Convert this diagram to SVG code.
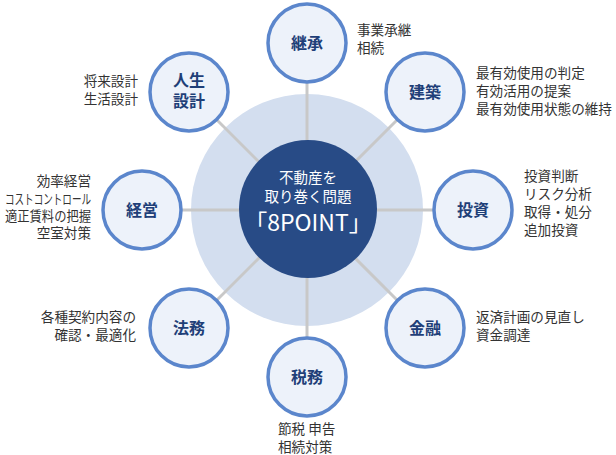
<svg xmlns="http://www.w3.org/2000/svg" width="616" height="455" viewBox="0 0 616 455">
<style>
.node{fill:#edf2fa;stroke:#5b86cc;stroke-width:3.5}
.lbl{font-family:"Noto Sans CJK JP","Noto Sans",sans-serif;font-size:16px;font-weight:bold;fill:#1f3f78;text-anchor:middle}
.desc{font-family:"Noto Sans CJK JP","Noto Sans",sans-serif;font-size:13.6px;fill:#333}
.r{text-anchor:end}
.ctr{font-family:"Noto Sans CJK JP","Noto Sans",sans-serif;fill:#fff;text-anchor:middle}
.conn line{stroke:#c8c8c8;stroke-width:3}
</style>
<circle id="ring" cx="307" cy="210" r="116" fill="#d3deef"/>
<g class="conn" id="connectors">
<line x1="307" y1="210" x2="307" y2="43"/>
<line x1="307" y1="210" x2="425" y2="92"/>
<line x1="307" y1="210" x2="473" y2="210"/>
<line x1="307" y1="210" x2="425" y2="328"/>
<line x1="307" y1="210" x2="307" y2="377"/>
<line x1="307" y1="210" x2="189" y2="328"/>
<line x1="307" y1="210" x2="142" y2="210"/>
<line x1="307" y1="210" x2="189" y2="92"/>
</g>
<g id="center">
<circle cx="308" cy="209" r="69" fill="#284b86"/>
<text class="ctr" x="308" y="183" font-size="14.5">不動産を</text>
<text class="ctr" x="308" y="202" font-size="14.5">取り巻く問題</text>
<text class="ctr" x="308" y="231" font-size="23">「8POINT」</text>
</g>
<g id="keisho">
<circle class="node" cx="307" cy="43" r="39"/>
<text class="lbl" x="307" y="49">継承</text>
<text class="desc" x="357" y="35">事業承継</text>
<text class="desc" x="357" y="53">相続</text>
</g>
<g id="kenchiku">
<circle class="node" cx="425" cy="92" r="39"/>
<text class="lbl" x="425" y="98">建築</text>
<text class="desc" x="476" y="78">最有効使用の判定</text>
<text class="desc" x="476" y="96">有効活用の提案</text>
<text class="desc" x="476" y="114">最有効使用状態の維持</text>
</g>
<g id="toshi">
<circle class="node" cx="473" cy="210" r="39"/>
<text class="lbl" x="473" y="216">投資</text>
<text class="desc" x="524" y="181">投資判断</text>
<text class="desc" x="524" y="199">リスク分析</text>
<text class="desc" x="524" y="217">取得・処分</text>
<text class="desc" x="524" y="235">追加投資</text>
</g>
<g id="kinyu">
<circle class="node" cx="425" cy="328" r="39"/>
<text class="lbl" x="425" y="334">金融</text>
<text class="desc" x="476" y="322">返済計画の見直し</text>
<text class="desc" x="476" y="340">資金調達</text>
</g>
<g id="zeimu">
<circle class="node" cx="307" cy="377" r="39"/>
<text class="lbl" x="307" y="383">税務</text>
<text class="desc" x="278" y="434">節税 申告</text>
<text class="desc" x="278" y="452">相続対策</text>
</g>
<g id="homu">
<circle class="node" cx="189" cy="328" r="39"/>
<text class="lbl" x="189" y="334">法務</text>
<text class="desc r" x="136" y="322">各種契約内容の</text>
<text class="desc r" x="136" y="340">確認・最適化</text>
</g>
<g id="keiei">
<circle class="node" cx="142" cy="210" r="39"/>
<text class="lbl" x="142" y="216">経営</text>
<text class="desc r" x="91" y="186">効率経営</text>
<text class="desc r" x="91" y="204" textLength="86" lengthAdjust="spacingAndGlyphs">コストコントロール</text>
<text class="desc r" x="91" y="221" textLength="86" lengthAdjust="spacingAndGlyphs">適正賃料の把握</text>
<text class="desc r" x="91" y="238">空室対策</text>
</g>
<g id="jinsei">
<circle class="node" cx="189" cy="92" r="39"/>
<text class="lbl" x="189" y="86">人生</text>
<text class="lbl" x="189" y="107">設計</text>
<text class="desc r" x="138" y="86">将来設計</text>
<text class="desc r" x="138" y="104">生活設計</text>
</g>
</svg>
